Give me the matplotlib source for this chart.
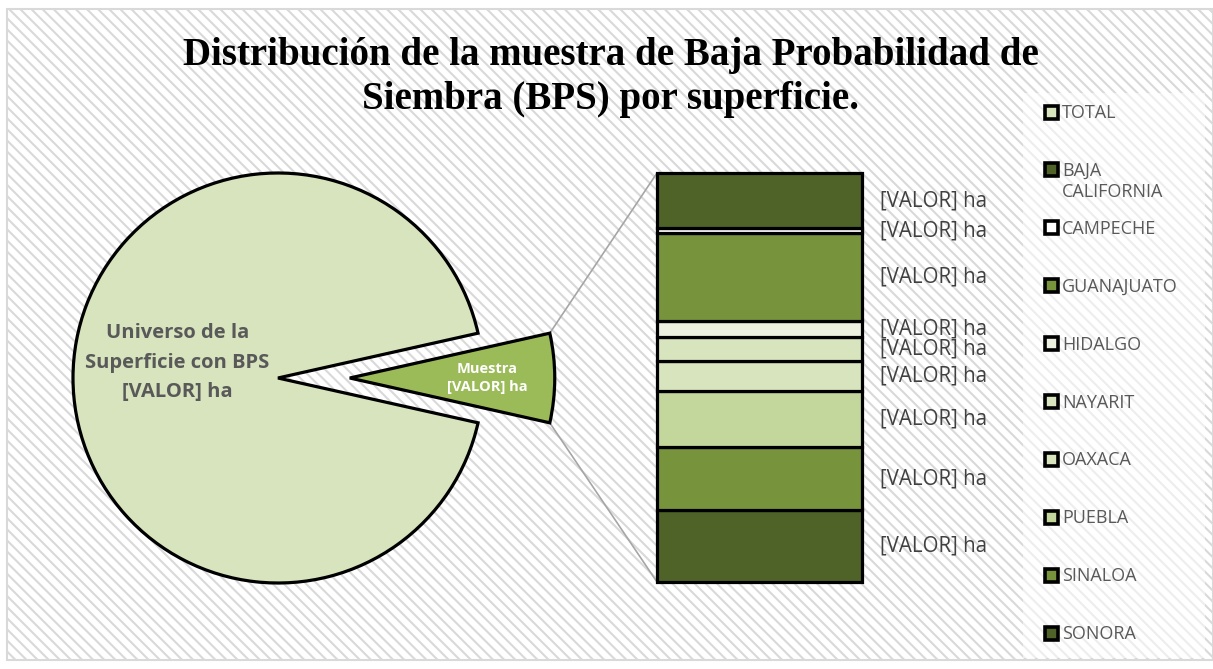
import matplotlib
matplotlib.use("Agg")
import matplotlib.pyplot as plt
from matplotlib.patches import Rectangle, ConnectionPatch
import numpy as np

# ---------------- data ----------------
title = "Distribución de la muestra de Baja Probabilidad de\nSiembra (BPS) por superficie."
legend_labels = ["TOTAL", "BAJA\nCALIFORNIA", "CAMPECHE", "GUANAJUATO", "HIDALGO",
                 "NAYARIT", "OAXACA", "PUEBLA", "SINALOA", "SONORA"]
states = ["BAJA CALIFORNIA", "CAMPECHE", "GUANAJUATO", "HIDALGO", "NAYARIT",
          "OAXACA", "PUEBLA", "SINALOA", "SONORA"]
state_values = [55, 5, 88, 16, 24, 30, 56, 63, 72]
universe_value = 5420
pie_labels = ["Universo de la\nSuperficie con BPS\n[VALOR] ha", "Muestra\n[VALOR] ha"]
bar_label = "[VALOR] ha"

# ---------------- style ----------------
total_color = "#D7E4BD"
sample_color = "#9BBB59"
state_colors = ["#4F6228", "#FFFFFF", "#77933C", "#EBF1DE", "#D7E4BD",
                "#D7E4BD", "#C3D69B", "#77933C", "#4F6228"]
legend_colors = [total_color] + state_colors
edge_lw = 2.3
text_gray = "#595959"

plt.rcParams['hatch.linewidth'] = 1.5
plt.rcParams['hatch.color'] = "#E8E8E8"

W, H = 1213, 669
fig = plt.figure(figsize=(W / 100, H / 100), dpi=100)
fig.patch.set_facecolor("white")

def fx(px):
    return px / W

def fy(py):
    return 1 - py / H

# background with diagonal stripes
bg = fig.add_axes([0, 0, 1, 1], zorder=0)
bg.set_axis_off()
bg.set_xlim(0, 1)
bg.set_ylim(0, 1)
bg.add_patch(Rectangle((fx(7), fy(660)), fx(1213 - 7), fy(9) - fy(660),
                       facecolor="white", edgecolor="#D9D9D9", lw=1.5,
                       hatch="\\\\\\", transform=bg.transAxes))
# legend panel (lighter)
bg.add_patch(Rectangle((fx(1023), fy(658)), fx(1205 - 1023), fy(93) - fy(658),
                       facecolor="white", edgecolor="none", alpha=0.55,
                       transform=bg.transAxes))

# ---------------- pie ----------------
R = 205.0
cx, cy = 278, 378
xl, xr, yb, yt = -1.2, 1.5, -1.2, 1.2
pie_ax = fig.add_axes([fx(cx + xl * R), fy(cy - yb * R), (xr - xl) * R / W, (yt - yb) * R / H], zorder=2)
sample_value = sum(state_values)
frac = sample_value / (sample_value + universe_value)
explode_d = 0.35
wedges, _ = pie_ax.pie([sample_value, universe_value],
                       colors=[sample_color, total_color],
                       startangle=-frac * 180, counterclock=True,
                       explode=[explode_d, 0],
                       wedgeprops=dict(edgecolor="black", linewidth=edge_lw))
for w in wedges:
    w.set_clip_on(False)
pie_ax.set_xlim(xl, xr)
pie_ax.set_ylim(yb, yt)
pie_ax.set_aspect("equal")
pie_ax.set_axis_off()

pie_ax.text(-0.49, 0.075, pie_labels[0], ha="center", va="center", fontsize=14.5,
            fontweight="bold", color=text_gray, family="Open Sans", linespacing=1.62)
pie_ax.text(explode_d + 0.67, 0.0, pie_labels[1], ha="center", va="center", fontsize=10.5,
            fontweight="bold", color="white", family="Open Sans", linespacing=1.35)

# ---------------- bar ----------------
bx0, bx1, by0, by1 = 657, 862, 173, 582
bar_ax = fig.add_axes([fx(bx0), fy(by1), (bx1 - bx0) / W, (by1 - by0) / H], zorder=2)
total = sum(state_values)
bottom = 0
order = list(range(len(states)))[::-1]  # Sonora at the bottom, Baja California on top
for i in order:
    bar_ax.bar(0, state_values[i], bottom=bottom, width=1.0, color=state_colors[i],
               edgecolor="black", linewidth=edge_lw, clip_on=False)
    bar_ax.text(1.09, bottom + state_values[i] / 2, bar_label,
                transform=bar_ax.get_yaxis_transform(), ha="left", va="center",
                fontsize=14.8, color="#404040", family="Open Sans")
    bottom += state_values[i]
bar_ax.set_xlim(-0.5, 0.5)
bar_ax.set_ylim(0, total)
bar_ax.set_axis_off()

# connector lines
half = np.deg2rad(frac * 180)
for sgn, ybar in [(1, total), (-1, 0)]:
    px = explode_d + np.cos(half)
    py = sgn * np.sin(half)
    con = ConnectionPatch(xyA=(px, py), coordsA=pie_ax.transData,
                          xyB=(-0.5, ybar), coordsB=bar_ax.transData,
                          color="#A6A6A6", lw=1.2, zorder=1)
    fig.add_artist(con)

# ---------------- legend ----------------
leg_ax = fig.add_axes([0, 0, 1, 1], zorder=3)
leg_ax.set_axis_off()
leg_ax.set_xlim(0, W)
leg_ax.set_ylim(H, 0)
y0, dy = 112, 57.9
for k, (lab, col) in enumerate(zip(legend_labels, legend_colors)):
    yy = y0 + k * dy
    leg_ax.add_patch(Rectangle((1045, yy - 6.5), 13, 13, facecolor=col,
                               edgecolor="black", lw=2.6))
    leg_ax.text(1062, yy - 8, lab, ha="left", va="top",
                fontsize=13, color=text_gray, family="Open Sans", linespacing=1.25)

# ---------------- title ----------------
fig.text(fx(611), fy(78), title, ha="center", va="center", fontsize=28,
         fontweight="bold", family="Liberation Serif", linespacing=1.25, color="black")

fig.savefig("out.png", dpi=100)
